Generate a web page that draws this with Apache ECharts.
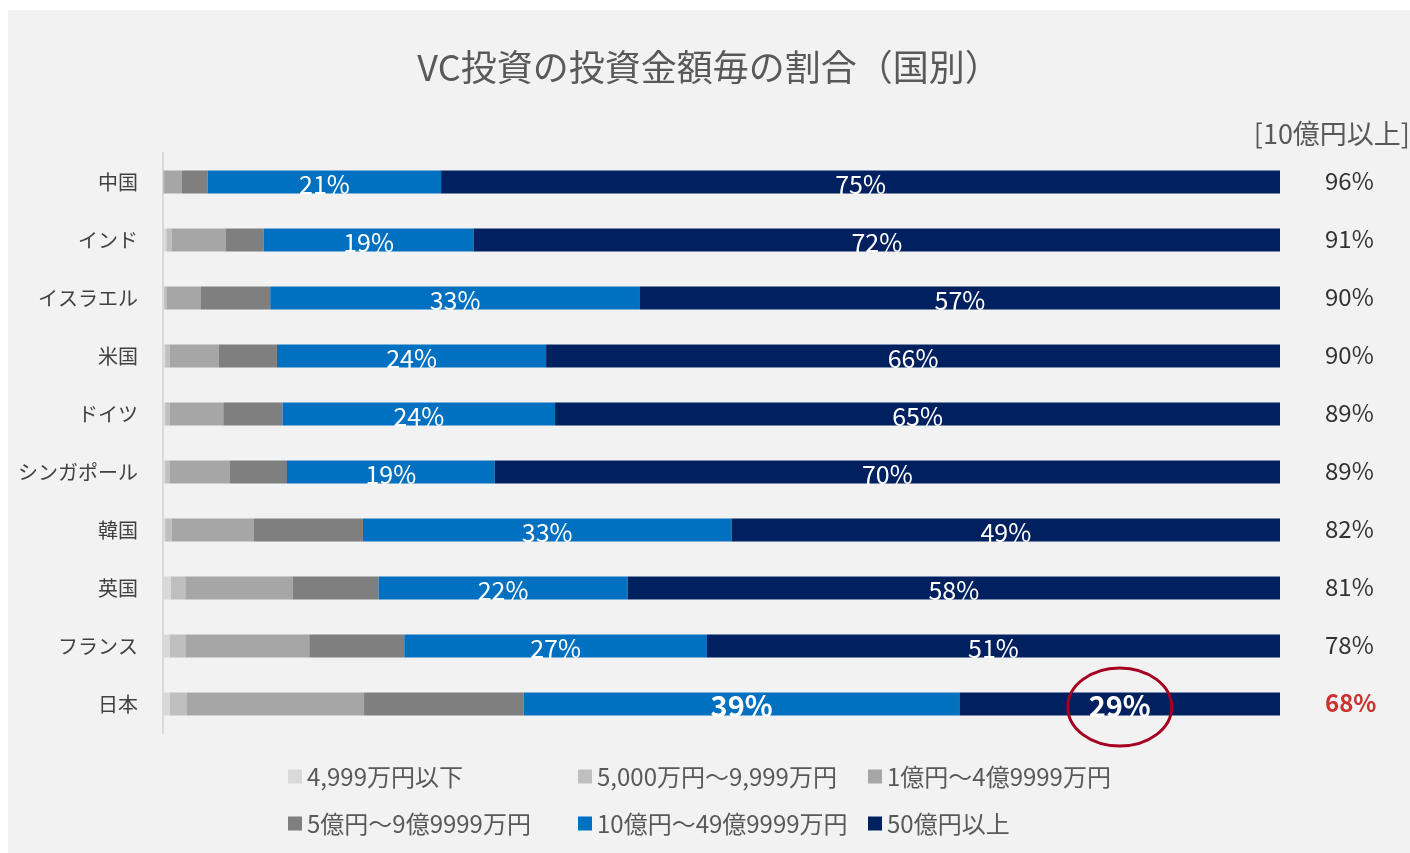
<!DOCTYPE html>
<html>
<head>
<meta charset="utf-8">
<script src="https://cdn.jsdelivr.net/npm/echarts@6/dist/echarts.min.js"></script>
<style>
  html, body { margin: 0; padding: 0; background: #fff; }
  #main { position: absolute; left: 8px; top: 10px; width: 1402px; height: 843px; }
</style>
</head>
<body>
<div id="main"></div>
<script>
// 国別の投資金額帯ごとの割合 (%)
var countries = ['中国', 'インド', 'イスラエル', '米国', 'ドイツ', 'シンガポール', '韓国', '英国', 'フランス', '日本'];
var seriesNames = ['4,999万円以下', '5,000万円～9,999万円', '1億円～4億9999万円', '5億円～9億9999万円', '10億円～49億9999万円', '50億円以上'];
var under5000 = [0.0, 0.3, 0.1, 0.2, 0.2, 0.2, 0.2, 0.7, 0.6, 0.6];
var from5000 = [0.1, 0.5, 0.2, 0.4, 0.4, 0.4, 0.6, 1.3, 1.4, 1.5];
var oku1to5 = [1.6, 4.8, 3.1, 4.4, 4.8, 5.4, 7.3, 9.6, 11.1, 15.9];
var oku5to10 = [2.3, 3.4, 6.2, 5.2, 5.3, 5.1, 9.8, 7.7, 8.5, 14.3];
var oku10to50 = [20.9, 18.8, 33.1, 24.1, 24.4, 18.6, 33.0, 22.3, 27.1, 39.0];
var oku50over = [75.1, 72.2, 57.3, 65.7, 64.9, 70.3, 49.1, 58.4, 51.3, 28.7];
var colors = ['#d9d9d9', '#bfbfbf', '#a6a6a6', '#7f7f7f', '#0070c0', '#002060'];

var allValues = [under5000, from5000, oku1to5, oku5to10, oku10to50, oku50over];
var fontJP = '"Noto Sans CJK JP", "Noto Sans", sans-serif';
var japanIdx = countries.indexOf('日本');

var chart = echarts.init(document.getElementById('main'), null, { renderer: 'canvas' });

var series = allValues.map(function (vals, si) {
  var showLabel = si >= 4;
  return {
    name: seriesNames[si],
    type: 'bar',
    stack: 'total',
    barWidth: 23,
    itemStyle: { color: colors[si] },
    label: {
      show: showLabel,
      position: 'inside',
      offset: [0, 2],
      color: '#fff',
      fontSize: 25,
      fontFamily: fontJP,
      formatter: function (p) { return Math.round(p.value) + '%'; }
    },
    data: vals.map(function (v, i) {
      if (showLabel && i === japanIdx) {
        return { value: v, label: { fontWeight: 'bold', fontSize: 29 } };
      }
      return v;
    })
  };
});

// 10億円以上の合計 (右側のラベル)
var totals = countries.map(function (c, i) {
  return Math.round(oku10to50[i] + oku50over[i]);
});
series.push({
  name: 'total',
  type: 'scatter',
  symbolSize: 0,
  silent: true,
  label: {
    show: true,
    position: 'right',
    distance: 45,
    color: '#000',
    fontSize: 24,
    fontFamily: fontJP,
    offset: [0, -1],
    formatter: function (p) { return totals[p.dataIndex] + '%'; }
  },
  data: countries.map(function (c, i) {
    if (i === japanIdx) {
      return { value: [100, i], label: { color: '#c00000', fontWeight: 'bold' } };
    }
    return [100, i];
  })
});

var option = {
  backgroundColor: '#f2f2f2',
  animation: false,
  textStyle: { fontFamily: fontJP },
  title: [{
    text: 'VC投資の投資金額毎の割合（国別）',
    left: 'center',
    top: 34,
    textStyle: { fontSize: 36, fontWeight: 'normal', color: '#595959', fontFamily: fontJP }
  }, {
    text: '[10億円以上]',
    right: 0,
    top: 110,
    padding: 0,
    textStyle: { fontSize: 27, fontWeight: 'normal', color: '#595959', fontFamily: fontJP }
  }],
  grid: { left: 155, right: 130, top: 143, bottom: 120, containLabel: false },
  xAxis: { type: 'value', min: 0, max: 100, show: false },
  yAxis: {
    type: 'category',
    data: countries,
    inverse: true,
    axisLine: { show: true, lineStyle: { color: '#d9d9d9', width: 2 } },
    axisTick: { show: false },
    axisLabel: { color: '#404040', fontSize: 20, margin: 25, fontFamily: fontJP }
  },
  legend: {
    data: seriesNames,
    left: 280,
    top: 748,
    width: 880,
    padding: 0,
    itemGap: 10,
    itemWidth: 14,
    itemHeight: 14,
    icon: 'rect',
    formatter: function (name) { return '{a|' + name + '}'; },
    textStyle: {
      color: '#595959',
      fontSize: 24,
      fontFamily: fontJP,
      rich: { a: { width: 261, height: 37, fontSize: 24, color: '#595959', lineHeight: 37, fontFamily: fontJP } }
    }
  },
  series: series
};

chart.setOption(option);

// 日本の50億円以上を囲む赤い楕円
var jpStart = 0;
for (var k = 0; k < 5; k++) jpStart += allValues[k][japanIdx];
var center = chart.convertToPixel({ gridIndex: 0 }, [jpStart + oku50over[japanIdx] / 2, japanIdx]);
chart.setOption({
  graphic: [{
    type: 'ellipse',
    shape: { cx: center[0], cy: center[1] + 3, rx: 52, ry: 39 },
    style: { fill: 'none', stroke: '#a50021', lineWidth: 3 },
    z: 100
  }]
});
</script>
</body>
</html>
